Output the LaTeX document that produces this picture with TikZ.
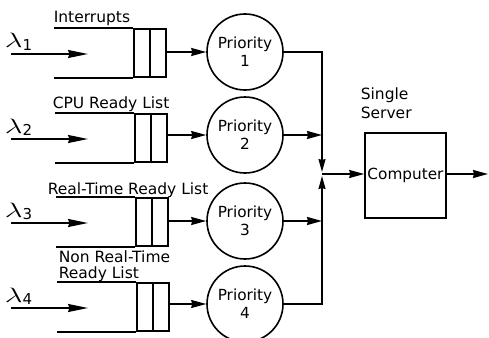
\documentclass[tikz,border=0pt]{standalone}
\usepackage{fontspec}
\setmainfont{DejaVu Sans}
\usetikzlibrary{arrows.meta}
\begin{document}
\begin{tikzpicture}[x=1pt,y=-1pt,
  line width=1.6pt,
  arr/.style={-{Stealth[length=15pt,width=8pt,inset=1pt]}},
  longarr/.style={-{Stealth[length=20pt,width=8pt,inset=1.5pt]}},
  shortarr/.style={-{Stealth[length=13pt,width=7pt,inset=1pt]}},
  lbl/.style={font=\fontsize{15.5}{20}\selectfont, inner sep=0},
  prio/.style={circle, draw, minimum size=76pt, inner sep=0, align=center,
    font=\fontsize{15.3}{18}\selectfont},
  buf/.style={draw, minimum width=32pt, minimum height=48pt, inner sep=0},
  cpu/.style={draw, minimum width=81pt, minimum height=85pt, inner sep=0,
    font=\fontsize{15.3}{18}\selectfont},
]
\useasboundingbox (0,0) rectangle (489,337);

% four waiting lines, each with an arrival stream and a priority server
\foreach \i/\y/\cy/\dx in {1/53/52/0, 2/138/135/1, 3/222/221/2, 4/307/304/3}{
  \node[buf] (q\i) at (150+\dx,\y) {};
  \draw (q\i.north) -- (q\i.south);
  \draw (q\i.north west) -- ++(-79,0);
  \draw (q\i.south west) -- ++(-79,0);
  \coordinate (s\i) at (11,\y+1);
  \coordinate (e\i) at (88,\y+1);
  \draw[longarr] (s\i) -- (e\i);
  \node[inner sep=0, anchor=base west] (l\i) at (4,\y-5)
    {\scalebox{1.5}[1]{\fontsize{20}{22}\selectfont$\lambda$}\fontsize{15}{18}\selectfont\raisebox{-2pt}{\i}};
  \node[prio] (p\i) at (245,\cy) {Priority\\\i};
  \draw[arr] (q\i.east |- p\i.west) -- (p\i.west);
}

% queue names
\node[lbl, anchor=base west] (n1) at (53,23) {Interrupts};
\node[lbl, anchor=base west] (n2) at (52,108) {CPU Ready List};
\node[lbl, anchor=base west] (n3) at (47,194) {Real-Time Ready List};
\node[lbl, anchor=base west] (n4a) at (58,262) {Non Real-Time};
\node[lbl, anchor=base west] (n4b) at (58,278) {Ready List};

% merging into the single server
\coordinate (j) at (322,174);
\coordinate (jt) at (322,172);
\coordinate (jb) at (322,176);
\coordinate (jo) at (322,174);
\draw[shortarr] (p1.east) -| (jt);
\draw[shortarr] (p4.east) -| (jb);
\draw[arr] (p2.east) -- (p2.east -| j);
\draw[arr] (p3.east) -- (p3.east -| j);

\node[cpu] (c) at (405.5,175.5) {Computer};
\draw[arr] (jo) -- (c.west |- jo);
\coordinate (out) at (488,174);
\draw[arr] (c.east |- out) -- (out);

\node[lbl, anchor=base west] (ss) at (360,99) {Single};
\node[lbl, anchor=base west] (ss2) at (360,118) {Server};
\end{tikzpicture}
\end{document}
